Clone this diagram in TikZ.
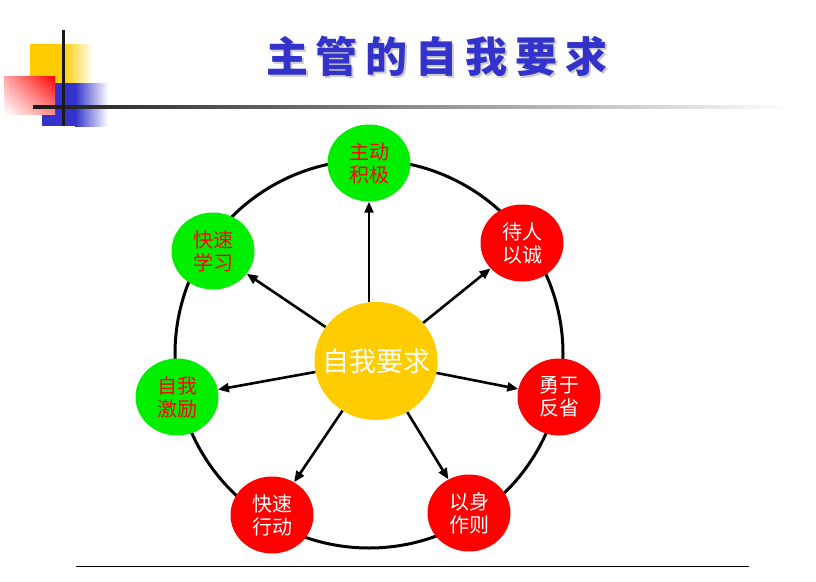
\documentclass[tikz,border=0pt]{standalone}
\usepackage{fontspec}
\setmainfont{Noto Sans CJK SC}
\usetikzlibrary{shapes.geometric,arrows.meta,shadings}
\definecolor{goldY}{RGB}{255,204,0}
\definecolor{titleblue}{RGB}{51,51,204}
\definecolor{leafgreen}{RGB}{0,238,0}

\begin{document}
\begin{tikzpicture}[x=1pt,y=-1pt,
    leaf/.style={ellipse,minimum width=83pt,minimum height=77pt,inner sep=0pt,align=center,font=\fontsize{20}{23}\selectfont},
    good/.style={leaf,fill=leafgreen,text=red},
    act/.style={leaf,fill=red,text=white},
    arr/.style={line width=2.6pt,-{Triangle[length=11pt,width=9pt]}}]
    \useasboundingbox (0,0) rectangle (816,581);

    % corner decoration
    \fill[goldY] (30,44) rectangle (63,83);
    \shade[left color=goldY,right color=white] (63,44) rectangle (93,83);
    \fill[titleblue] (42,83) rectangle (75,126);
    \shade[left color=titleblue,right color=white] (75,83) rectangle (108,126);
    \shade[upper left=red!35,upper right=red,lower left=white,lower right=red!45] (4,76) rectangle (55,114);
    \shade[left color=black!90,right color=white] (33,105.5) rectangle (790,108.5);
    \fill[black!90] (61.5,30) rectangle (64.5,126);
    \draw[line width=1pt] (76,566) -- (749,566); % bottom

    % title
    \node[text=black!20,font=\fontsize{42}{46}\selectfont\bfseries] at (439,58)
        {主\kern8pt 管\kern8pt 的\kern8pt 自\kern8pt 我\kern8pt 要\kern8pt 求};
    \node[text=titleblue,font=\fontsize{42}{46}\selectfont\bfseries] (T) at (437,56)
        {主\kern8pt 管\kern8pt 的\kern8pt 自\kern8pt 我\kern8pt 要\kern8pt 求};

    \draw[line width=3pt] (369,354) circle (194pt);

    \node[ellipse,fill=goldY,minimum width=123pt,minimum height=118pt,inner xsep=-11pt,inner ysep=0pt,
        text=white,font=\fontsize{27}{30}\selectfont] (S) at (376,361) {自我要求};

    \node[good] (P1) at (369,163) {主动\\积极};
    \node[act]  (P2) at (522,243) {待人\\以诚};
    \node[act]  (P3) at (559,397) {勇于\\反省};
    \node[act]  (P4) at (469,513) {以身\\作则};
    \node[act]  (P5) at (272,515) {快速\\行动};
    \node[good] (P6) at (177,397) {自我\\激励};
    \node[good] (P7) at (213,251) {快速\\学习};

    \draw[arr] (S.north -| P1) -- (P1); % up
    \foreach \i in {2,...,7}
        \draw[arr] (S) -- (P\i);

\end{tikzpicture}
\end{document}
